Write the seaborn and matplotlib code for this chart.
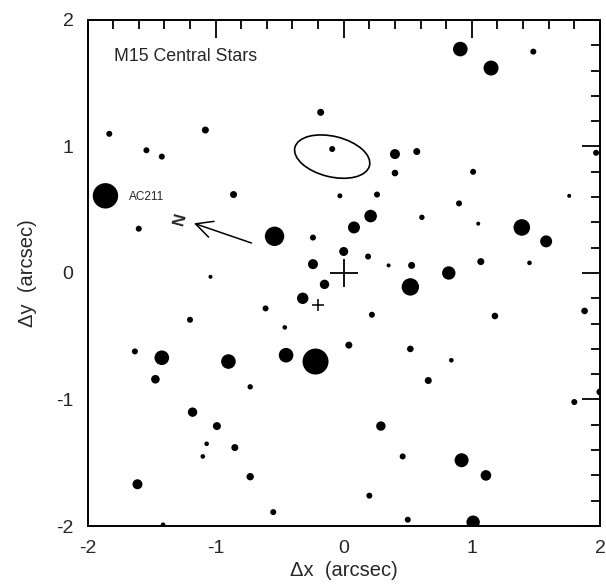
import seaborn as sns
import pandas as pd
import matplotlib.pyplot as plt
from matplotlib.patches import Ellipse
from matplotlib.ticker import MultipleLocator

# star offsets from the cluster centre (arcsec) and dot radius (px)
star_x = [-1.83, -1.08, -1.54, -1.42, -0.18, -0.09, -1.86, -0.86, -0.03, -1.60,
          -0.54, -0.24, 0.00, -0.24, -1.04, 0.08, 0.91, 1.15, 1.48, 0.40,
          0.57, 0.40, 1.01, 1.97, 0.26, 1.76, 0.90, 0.21, 0.61, 1.05,
          1.39, 1.58, 0.19, 0.35, 0.53, 1.07, 1.45, 0.82, 0.52, 0.22,
          1.18, 1.88, 0.04, 0.52, 0.84, 0.66, 1.80, 2.00, 0.29, 0.46,
          0.92, 1.11, 0.20, 0.50, 1.01, -0.15, -0.32, -0.61, -1.20, -0.46,
          -1.63, -1.42, -0.90, -0.45, -0.22, -1.47, -0.73, -1.18, -0.99, -1.07,
          -1.10, -0.85, -0.73, -1.61, -0.55, -1.41]
star_y = [1.10, 1.13, 0.97, 0.92, 1.27, 0.98, 0.61, 0.62, 0.61, 0.35,
          0.29, 0.28, 0.17, 0.07, -0.03, 0.36, 1.77, 1.62, 1.75, 0.94,
          0.96, 0.79, 0.80, 0.95, 0.62, 0.61, 0.55, 0.45, 0.44, 0.39,
          0.36, 0.25, 0.13, 0.06, 0.06, 0.09, 0.08, 0.00, -0.11, -0.33,
          -0.34, -0.30, -0.57, -0.60, -0.69, -0.85, -1.02, -0.94, -1.21, -1.45,
          -1.48, -1.60, -1.76, -1.95, -1.97, -0.09, -0.20, -0.28, -0.37, -0.43,
          -0.62, -0.67, -0.70, -0.65, -0.70, -0.84, -0.90, -1.10, -1.21, -1.35,
          -1.45, -1.38, -1.61, -1.67, -1.89, -1.99]
star_r = [3, 3.5, 3, 3, 3.5, 3, 12.7, 3.5, 2.5, 3,
          9.7, 3, 4.5, 5, 2, 6, 7.3, 7.5, 3, 5,
          3.5, 3.3, 3, 3, 3, 2, 3, 6.3, 2.7, 2,
          8.3, 6, 3, 2, 3.5, 3.5, 2.3, 6.7, 8.7, 3,
          3.3, 3.3, 3.5, 3.3, 2.3, 3.5, 3, 3.5, 4.7, 3,
          7, 5.3, 3, 3, 6.7, 4.7, 5.7, 3, 3, 2.3,
          3, 7.3, 7.3, 7.3, 13, 4.3, 2.7, 4.7, 4, 2.3,
          2.3, 3.5, 3.7, 5, 3, 2.3]

# reference marks: centre (big cross) and second cross
cross_x = [0.0, -0.20]
cross_y = [0.0, -0.25]

df = pd.DataFrame({'x': star_x, 'y': star_y, 'r': star_r})

sns.set_style('white')
plt.rcParams['font.family'] = ['Liberation Sans', 'DejaVu Sans']
plt.rcParams['axes.unicode_minus'] = False

fig = plt.figure(figsize=(6.06, 5.84), dpi=100)
ax = fig.add_axes([0.1444, 0.0993, 0.8456, 0.8665])

px2pt = 0.72
size_map = {r: (2 * r * px2pt) ** 2 for r in df['r'].unique()}
sns.scatterplot(data=df, x='x', y='y', size='r', sizes=size_map, color='black',
                edgecolor='none', linewidth=0, legend=False, ax=ax)

ax.plot(cross_x[:1], cross_y[:1], marker='+', color='black', markersize=20, mew=1.3, ls='none')
ax.plot(cross_x[1:], cross_y[1:], marker='+', color='black', markersize=9, mew=1.1, ls='none')

ax.add_patch(Ellipse((-0.09, 0.92), 0.6, 0.32, angle=-14, fill=False, ec='black', lw=1.2))

ax.annotate('', xy=(-1.19, 0.40), xytext=(-0.70, 0.23),
            arrowprops=dict(arrowstyle='->', color='black', lw=1.1, mutation_scale=30))
ax.text(-1.28, 0.43, 'N', rotation=75, ha='center', va='center', fontsize=12, fontweight='bold')
ax.text(-1.68, 0.60, 'AC211', ha='left', va='center', fontsize=8.5)
ax.text(-1.79, 1.71, 'M15 Central Stars', ha='left', va='center', fontsize=12.8)

ax.set_xlim(-2, 2)
ax.set_ylim(-2, 2)
ax.xaxis.set_major_locator(MultipleLocator(1))
ax.yaxis.set_major_locator(MultipleLocator(1))
ax.xaxis.set_minor_locator(MultipleLocator(0.2))
ax.yaxis.set_minor_locator(MultipleLocator(0.2))
ax.tick_params(which='both', direction='in', top=True, right=True, color='black', width=1.3)
ax.tick_params(which='major', length=13, labelsize=14, pad=10)
ax.tick_params(which='minor', length=6.5)
for s in ax.spines.values():
    s.set_color('black')
    s.set_linewidth(1.4)

ax.set_xlabel('Δx  (arcsec)', fontsize=14.5, labelpad=3)
ax.set_ylabel('Δy  (arcsec)', fontsize=14.5, labelpad=14)

plt.savefig('out.png', dpi=100)
